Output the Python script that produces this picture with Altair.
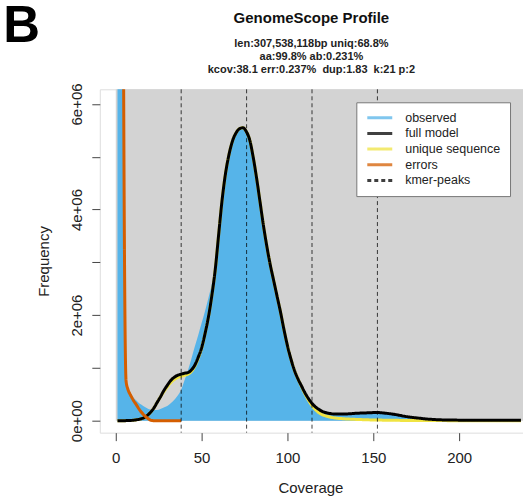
import altair as alt
import pandas as pd

# ---------------- data ----------------
panel_label = "B"
title_text = "GenomeScope Profile"
subtitle_lines = [
    "len:307,538,118bp uniq:68.8%",
    "aa:99.8% ab:0.231%",
    "kcov:38.1 err:0.237%\u00a0 dup:1.83\u00a0 k:21 p:2",
]

series_names = ["observed", "full model", "unique sequence", "errors", "kmer-peaks"]
series_colors = ["#56B4E9", "#000000", "#F0E442", "#D55E00", "#000000"]
series_dashes = [[1, 0], [1, 0], [1, 0], [1, 0], [4, 3]]

x_ticks = [0, 50, 100, 150, 200]
y_ticks = [0, 1000000, 2000000, 3000000, 4000000, 5000000, 6000000]
y_labeled_values = [0, 2000000, 4000000, 6000000]
y_tick_labels = ["0e+00", "2e+06", "4e+06", "6e+06"]

# observed histogram (frequency in millions)
coverage_obs = [1, 2, 3, 4, 5, 6, 7, 8, 10, 12, 14, 16, 18, 20, 22, 24, 26, 28, 30,
                32, 34, 36, 38, 40, 42, 44, 46, 48, 50, 52, 54, 56, 58, 60, 62, 64,
                66, 68, 70, 72, 74, 76, 78, 80, 82, 84, 86, 88, 90, 92, 94, 96, 98,
                100, 102, 104, 106, 108, 110, 112, 114, 116, 118, 120, 124, 128, 132,
                136, 140, 144, 148, 152, 156, 160, 164, 168, 172, 176, 180, 184, 190,
                200, 210, 220, 236]
observed_m = [90, 40, 18, 11, 3.2, 0.8, 0.65, 0.56, 0.45, 0.38, 0.32, 0.28, 0.24, 0.21,
              0.2, 0.2, 0.22, 0.25, 0.28, 0.33, 0.39, 0.47, 0.58, 0.76, 0.95, 1.17, 1.4,
              1.62, 1.85, 2.08, 2.33, 2.6, 2.95, 3.58, 4.2, 4.7, 5.05, 5.3, 5.45, 5.53,
              5.55, 5.48, 5.32, 5.0, 4.6, 4.15, 3.7, 3.3, 2.95, 2.65, 2.35, 2.05, 1.72,
              1.42, 1.17, 0.96, 0.8, 0.67, 0.54, 0.43, 0.34, 0.27, 0.22, 0.18, 0.14,
              0.125, 0.125, 0.13, 0.14, 0.145, 0.15, 0.155, 0.145, 0.13, 0.11, 0.085,
              0.065, 0.05, 0.035, 0.025, 0.016, 0.012, 0.01, 0.009, 0.008]

# model curves (frequency in millions)
coverage_model = [1, 4, 6, 8, 10, 12, 14, 16, 18, 20, 22, 24, 26, 28, 30, 32, 34, 36,
                  38, 40, 42, 44, 46, 48, 50, 52, 54, 56, 58, 60, 62, 64, 66, 68, 70,
                  72, 74, 76, 78, 80, 82, 84, 86, 88, 90, 92, 94, 96, 98, 100, 102, 104,
                  106, 108, 110, 112, 114, 116, 118, 120, 124, 128, 132, 136, 140, 144,
                  148, 152, 156, 160, 164, 168, 172, 176, 180, 184, 190, 200, 210, 220,
                  236]
full_model_m = [0, 0, 0.001, 0.003, 0.008, 0.016, 0.03, 0.05, 0.09, 0.15, 0.23, 0.34,
                0.45, 0.57, 0.67, 0.76, 0.82, 0.86, 0.88, 0.9, 0.91, 0.96, 1.05, 1.2,
                1.38, 1.65, 1.97, 2.38, 2.88, 3.55, 4.2, 4.7, 5.05, 5.3, 5.45, 5.53,
                5.55, 5.48, 5.32, 5.0, 4.6, 4.15, 3.7, 3.3, 2.95, 2.65, 2.35, 2.05, 1.72,
                1.42, 1.17, 0.96, 0.8, 0.67, 0.54, 0.43, 0.34, 0.27, 0.22, 0.18, 0.14,
                0.125, 0.125, 0.13, 0.14, 0.145, 0.15, 0.155, 0.145, 0.13, 0.11, 0.085,
                0.065, 0.05, 0.035, 0.025, 0.015, 0.01, 0.008, 0.007, 0.006]
unique_m = [0, 0, 0.001, 0.003, 0.008, 0.016, 0.03, 0.05, 0.09, 0.15, 0.23, 0.34,
            0.45, 0.55, 0.64, 0.72, 0.78, 0.82, 0.84, 0.86, 0.88, 0.93, 1.03, 1.18,
            1.37, 1.65, 1.97, 2.38, 2.88, 3.55, 4.2, 4.7, 5.05, 5.3, 5.45, 5.53,
            5.55, 5.48, 5.32, 5.0, 4.6, 4.15, 3.7, 3.3, 2.95, 2.65, 2.35, 2.05, 1.72,
            1.42, 1.17, 0.96, 0.8, 0.66, 0.52, 0.4, 0.3, 0.22, 0.16, 0.12, 0.075,
            0.05, 0.038, 0.03, 0.024, 0.019, 0.015, 0.012, 0.01, 0.008, 0.006, 0.005,
            0.004, 0.003, 0.002, 0.0015, 0.001, 0.0005, 0, 0, 0]

coverage_err = [1, 2, 3, 4, 5, 6, 7, 8, 9, 10, 12, 14, 16, 18, 20, 22, 24, 26, 28, 30,
                32, 34, 36, 38]
errors_m = [200, 60, 25, 12, 3.5, 0.75, 0.6, 0.52, 0.46, 0.4, 0.3, 0.2, 0.12, 0.06,
            0.015, 0, 0, 0, 0, 0, 0, 0, 0, 0]

kmer_peaks = [38.1, 76.2, 114.3, 152.4]

# ---------------- tables ----------------
M = 1_000_000
obs_df = pd.DataFrame({"coverage": coverage_obs,
                       "frequency": [v * M for v in observed_m]})
model_df = pd.DataFrame({"coverage": coverage_model,
                         "frequency": [v * M for v in full_model_m],
                         "series": series_names[1]})
unique_df = pd.DataFrame({"coverage": coverage_model,
                          "frequency": [v * M for v in unique_m],
                          "series": series_names[2]})
err_df = pd.DataFrame({"coverage": coverage_err,
                       "frequency": [v * M for v in errors_m],
                       "series": series_names[3]})
peaks_df = pd.DataFrame({"coverage": kmer_peaks, "series": series_names[4]})
bg_df = pd.DataFrame({"coverage": [0], "coverage_end": [max(coverage_obs) * 1.1],
                      "frequency": [0], "frequency_end": [max(observed_m) * M * 1.1]})
label_df = pd.DataFrame({"label": [panel_label]})

FONT = "Liberation Sans"

label_expr = " : ".join(
    f"datum.value == {v} ? '{t}'" for v, t in zip(y_labeled_values, y_tick_labels)
) + " : ''"

x_enc = alt.X(
    "coverage:Q",
    scale=alt.Scale(domain=[-9.3, 237.2], nice=False, zero=False),
    axis=alt.Axis(values=x_ticks, title="Coverage", format="d", grid=False,
                  domain=False, tickSize=8, tickColor="#444",
                  labelFontSize=15, labelFont=FONT, labelColor="#222",
                  labelBaseline="alphabetic", labelPadding=21.5,
                  titleFontSize=15, titleFont=FONT, titleColor="#222",
                  titleFontWeight="normal", titleBaseline="alphabetic",
                  titleX=211, titleY=60),
)
y_enc = alt.Y(
    "frequency:Q",
    scale=alt.Scale(domain=[-227000, 6278000], nice=False, zero=False),
    axis=alt.Axis(values=y_ticks, title="Frequency", labelExpr=label_expr,
                  grid=False, domain=False, tickSize=8, tickColor="#444",
                  labelFontSize=15, labelFont=FONT, labelColor="#222",
                  labelAngle=270, labelAlign="center", labelBaseline="alphabetic",
                  labelPadding=10.3,
                  titleFontSize=15, titleFont=FONT, titleColor="#222",
                  titleFontWeight="normal", titleAngle=270,
                  titleBaseline="alphabetic", titleX=-51, titleY=172),
)

legend = alt.Legend(
    orient="none", legendX=257, legendY=13, title=None,
    fillColor="white", strokeColor="#777", padding=9,
    labelFont=FONT, labelFontSize=12.5, labelColor="#222", labelLimit=0,
    symbolType="M-2.5,0H2.5", symbolSize=100, symbolStrokeWidth=3,
    symbolOffset=8, labelOffset=19, rowPadding=2.7,
)
color_enc = alt.Color("series:N", scale=alt.Scale(domain=series_names, range=series_colors),
                      legend=legend)
dash_enc = alt.StrokeDash("series:N", scale=alt.Scale(domain=series_names, range=series_dashes),
                          legend=legend)

bg = alt.Chart(bg_df).mark_rect(color="#D3D3D3", clip=True).encode(
    x=x_enc, x2="coverage_end:Q", y=y_enc, y2="frequency_end:Q")

obs = alt.Chart(obs_df).mark_area(color=series_colors[0], clip=True,
                                  interpolate="monotone").encode(
    x="coverage:Q", y="frequency:Q")

uniq = alt.Chart(unique_df).mark_line(strokeWidth=3, clip=True, interpolate="monotone").encode(
    x="coverage:Q", y="frequency:Q", color=color_enc, strokeDash=dash_enc)

model = alt.Chart(model_df).mark_line(strokeWidth=3, clip=True, interpolate="monotone").encode(
    x="coverage:Q", y="frequency:Q", color=color_enc, strokeDash=dash_enc)

err = alt.Chart(err_df).mark_line(strokeWidth=3, clip=True, interpolate="monotone").encode(
    x="coverage:Q", y="frequency:Q", color=color_enc, strokeDash=dash_enc)

peaks = alt.Chart(peaks_df).mark_rule(strokeWidth=1, opacity=0.75).encode(
    x="coverage:Q", color=color_enc, strokeDash=dash_enc)

panel = alt.Chart(label_df).mark_text(font=FONT, fontSize=51, fontWeight="bold",
                                      align="center", baseline="alphabetic",
                                      color="#000").encode(
    text="label:N", x=alt.value(-78.3), y=alt.value(-47.3))

chart = alt.layer(bg, obs, uniq, model, err, peaks, panel).properties(
    width=424, height=344,
    autosize=alt.AutoSizeParams(type="none"),
    padding={"left": 100, "top": 89, "right": 0, "bottom": 69},
    title=alt.Title(title_text, subtitle=subtitle_lines, font=FONT, fontSize=15,
                    fontWeight="bold", color="#111", subtitleFont=FONT,
                    subtitleFontSize=11, subtitleFontWeight="bold",
                    subtitleColor="#222", subtitleLineHeight=13,
                    subtitlePadding=12, offset=-74, anchor="middle"),
).configure_view(stroke="#555", strokeWidth=1).configure(background="white")

chart.save("out.html", embed_options={"renderer": "svg", "actions": False})
